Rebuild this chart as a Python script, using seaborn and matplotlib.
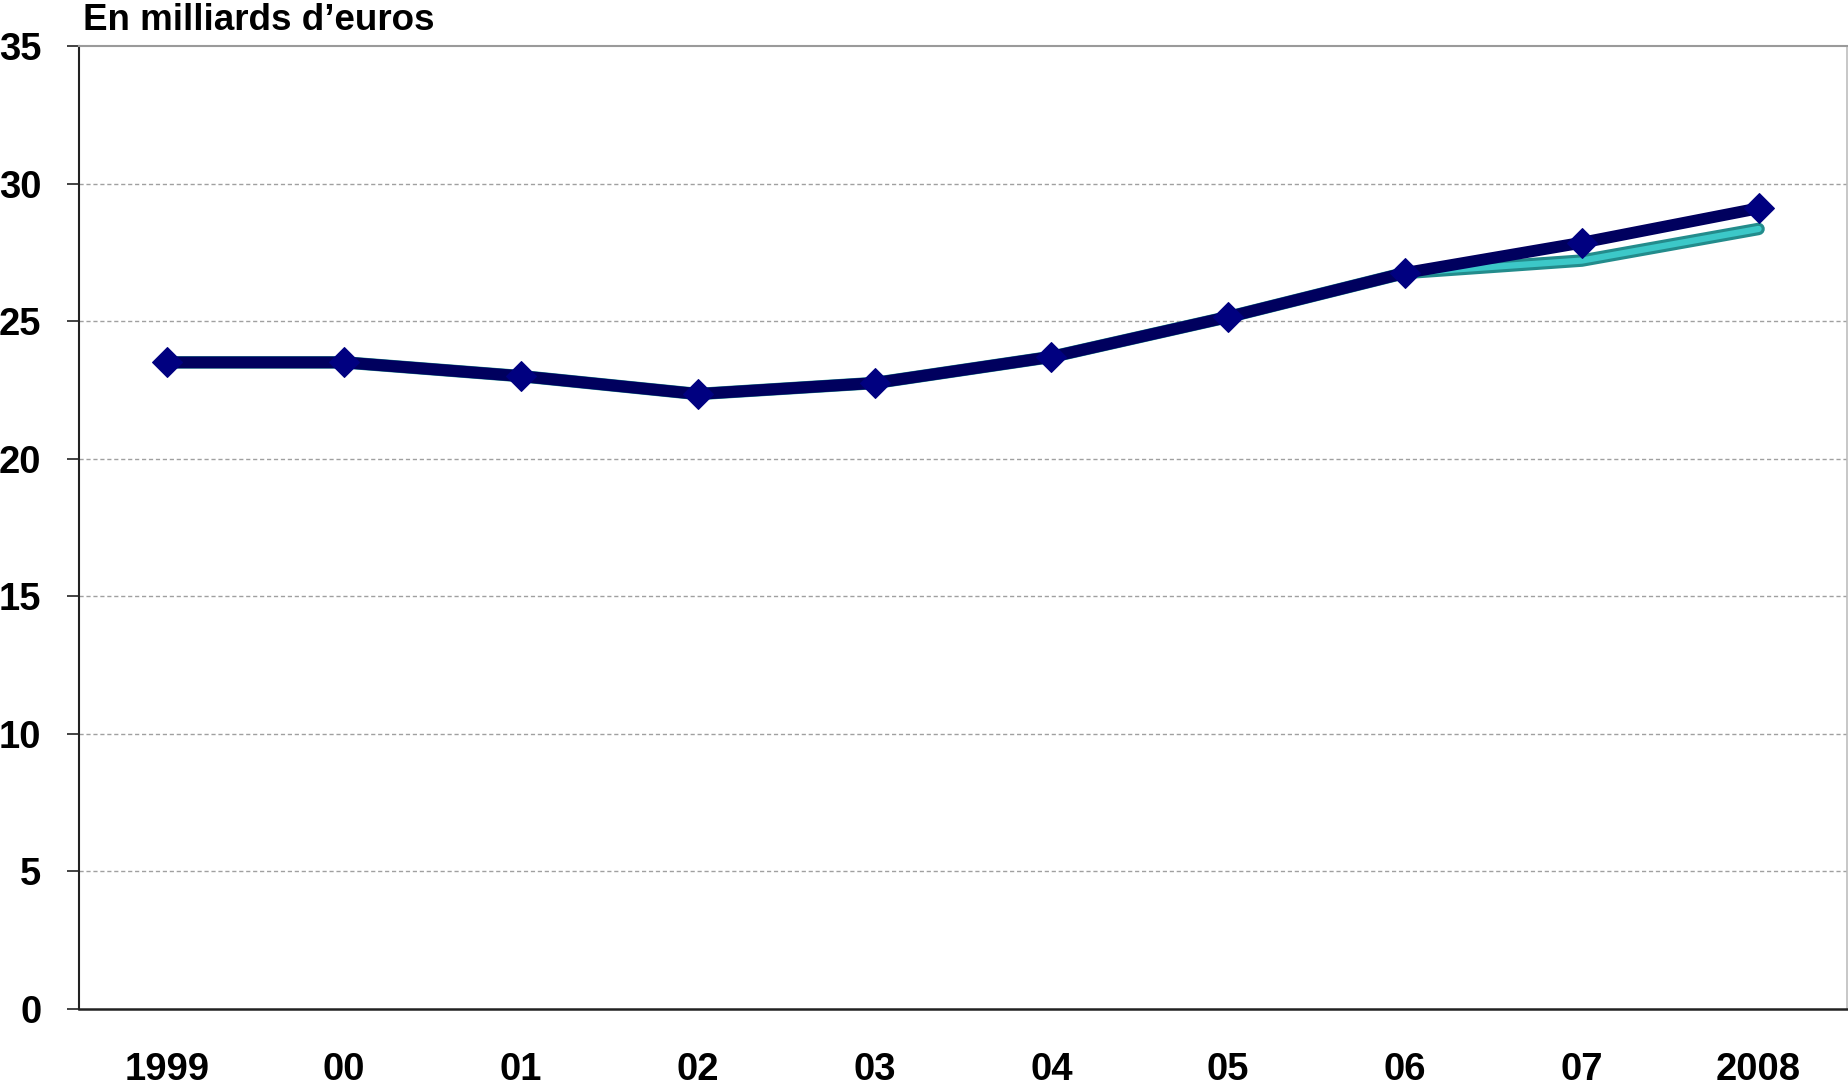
import matplotlib
matplotlib.use("Agg")
import matplotlib.pyplot as plt
import numpy as np
import pandas as pd
import seaborn as sns

# Données (milliards d'euros)
annees = ["1999", "00", "01", "02", "03", "04", "05", "06", "07", "2008"]
serie_bleue = [23.5, 23.5, 23.0, 22.35, 22.75, 23.7, 25.15, 26.75, 27.85, 29.1]
serie_turquoise = [23.5, 23.5, 23.0, 22.35, 22.75, 23.7, 25.15, 26.75, 27.2, 28.35]

df = pd.DataFrame({
    "pos": np.arange(len(annees)),
    "bleue": serie_bleue,
    "turquoise": serie_turquoise,
})

sns.set_style("white")
plt.rcParams["font.family"] = ["Liberation Sans", "DejaVu Sans"]
plt.rcParams["font.weight"] = "bold"
plt.rcParams["text.color"] = "black"
plt.rcParams["xtick.color"] = "black"
plt.rcParams["ytick.color"] = "black"

fig = plt.figure(figsize=(18.49, 10.87), dpi=100)
ax = fig.add_axes([0.0427, 0.0718, 0.9562, 0.8859])

# ligne turquoise (dessous), avec une ombre plus foncée
sns.lineplot(data=df, x="pos", y="turquoise", ax=ax, color="#238c8c", linewidth=9, zorder=2)
sns.lineplot(data=df, x="pos", y="turquoise", ax=ax, color="#3cc8c8", linewidth=4.5, zorder=2.1)
# ligne bleu marine
sns.lineplot(data=df, x="pos", y="bleue", ax=ax, color="#00005e", linewidth=8.5,
             marker="D", markersize=15, markerfacecolor="#000080",
             markeredgecolor="#000080", zorder=3)

ax.set_xlim(-0.5, len(annees) - 0.5)
ax.set_ylim(0, 35)
ax.set_yticks(range(0, 36, 5))
ax.set_xticks(df["pos"])
ax.set_xticklabels(annees)
ax.set_xticks(np.arange(-0.5, len(annees), 1.0), minor=True)

ax.set_xlabel("")
ax.set_ylabel("")

ax.tick_params(axis="x", which="major", length=0, pad=31, labelsize=27.5, labelcolor="black")
ax.tick_params(axis="x", which="minor", length=11, width=1.2, color="#222222", direction="out")
ax.tick_params(axis="y", which="major", length=9, width=1.2, color="#222222",
               direction="out", pad=18, labelsize=27.5, left=True, labelcolor="black")
for lab in ax.get_xticklabels() + ax.get_yticklabels():
    lab.set_fontweight("bold")

for y in range(5, 35, 5):
    ax.axhline(y, color="#a0a0a0", linestyle=(0, (3, 2)), linewidth=1.0, zorder=1)

ax.spines["left"].set_color("#222222")
ax.spines["bottom"].set_color("#222222")
ax.spines["left"].set_linewidth(1.5)
ax.spines["bottom"].set_linewidth(1.8)
ax.spines["top"].set_color("#9a9a9a")
ax.spines["right"].set_color("#bdbdbd")
ax.spines["top"].set_linewidth(1.5)
ax.spines["right"].set_linewidth(1.2)

fig.text(83 / 1849, 1 - 20 / 1087, "En milliards d\u2019euros", fontsize=26.5,
         fontweight="bold", va="center", ha="left", color="black")

fig.savefig("out.png", dpi=100)
